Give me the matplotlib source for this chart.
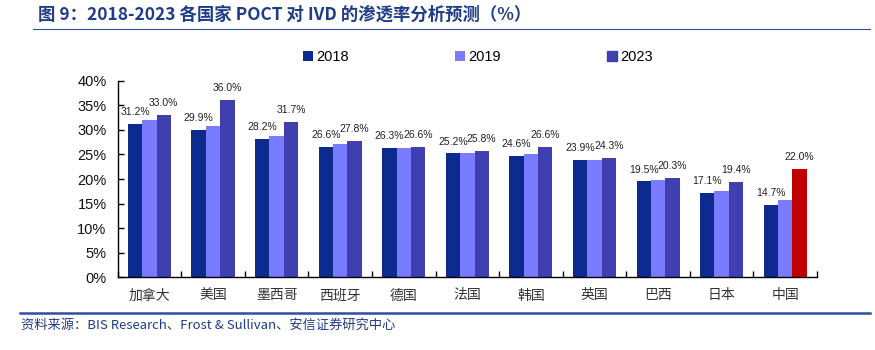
import matplotlib
matplotlib.use("Agg")
import matplotlib.pyplot as plt
import numpy as np

plt.rcParams['font.family'] = ['Liberation Sans', 'Noto Sans CJK SC', 'DejaVu Sans']

countries = ["加拿大", "美国", "墨西哥", "西班牙", "德国", "法国", "韩国", "英国", "巴西", "日本", "中国"]
series_names = ["2018", "2019", "2023"]
v2018 = [31.2, 29.9, 28.2, 26.6, 26.3, 25.2, 24.6, 23.9, 19.5, 17.1, 14.7]
v2019 = [32.0, 30.8, 28.8, 27.1, 26.4, 25.2, 25.1, 23.9, 19.8, 17.6, 15.8]
v2023 = [33.0, 36.0, 31.7, 27.8, 26.6, 25.8, 26.6, 24.3, 20.3, 19.4, 22.0]
yticks = [0, 5, 10, 15, 20, 25, 30, 35, 40]

c2018 = "#0D2A8E"
c2019 = "#7B7BFF"
c2023 = "#3F3FAF"
c_red = "#C00000"

fig = plt.figure(figsize=(8.75, 3.5), dpi=100)
ax = fig.add_axes([0.1345, 0.2077, 0.9337 - 0.1345, 0.5617])

x = np.arange(len(countries))
w = 0.226
b1 = ax.bar(x - w, v2018, w, color=c2018, label=series_names[0])
b2 = ax.bar(x, v2019, w, color=c2019, label=series_names[1])
colors23 = [c2023] * (len(countries) - 1) + [c_red]
b3 = ax.bar(x + w, v2023, w, color=colors23, label=series_names[2])

for rect, v in zip(b1, v2018):
    ax.annotate(f"{v:.1f}%", (rect.get_x() + rect.get_width() / 2, rect.get_height()),
                xytext=(0, 5), textcoords="offset points", ha="center", va="bottom",
                fontsize=7.5, color="#222222")
for rect, v in zip(b3, v2023):
    ax.annotate(f"{v:.1f}%", (rect.get_x() + rect.get_width() / 2, rect.get_height()),
                xytext=(0, 5), textcoords="offset points", ha="center", va="bottom",
                fontsize=7.5, color="#222222")

ax.set_xlim(-0.5, len(countries) - 0.5)
ax.set_ylim(0, 40)
ax.set_yticks(yticks)
ax.set_yticklabels([f"{t}%" for t in yticks], fontsize=10.5, color="#111111")
ax.set_xticks(x)
ax.set_xticklabels(countries, fontsize=10, color="#333333",
                   family=['Noto Sans CJK SC', 'DejaVu Sans'])
ax.set_xticks(np.arange(-0.5, len(countries), 1.0), minor=True)
ax.tick_params(axis='x', which='major', length=0, pad=8)
ax.tick_params(axis='x', which='minor', direction='in', length=4, width=1, color='black')
ax.tick_params(axis='y', direction='in', length=4, width=1, pad=8)
for s in ['top', 'right']:
    ax.spines[s].set_visible(False)
ax.spines['left'].set_linewidth(1)
ax.spines['bottom'].set_linewidth(1)

leg = fig.legend(handles=[b1, b2, b3], labels=series_names, loc='center',
                 bbox_to_anchor=(0.546, 1 - 57 / 350), ncol=3, frameon=False,
                 fontsize=10.5, handlelength=0.7, handleheight=0.7, handletextpad=0.2,
                 columnspacing=7.3)
leg.legend_handles[2].set_color(c2023)

fig.text(0.043, 1 - 15 / 350, "图 9：2018-2023 各国家 POCT 对 IVD 的渗透率分析预测（%）",
         fontsize=12.5, fontweight='bold', color="#1F3C88", va='center', ha='left',
         family=['Noto Sans CJK SC', 'DejaVu Sans'])
fig.add_artist(plt.Line2D([33 / 875, 870 / 875], [1 - 29 / 350, 1 - 29 / 350],
                          color="#2F4FA0", linewidth=0.8))
fig.add_artist(plt.Line2D([20 / 875, 870 / 875], [1 - 313 / 350, 1 - 313 / 350],
                          color="#2F4FA0", linewidth=1.8))
fig.text(0.024, 1 - 325 / 350, "资料来源：BIS Research、Frost & Sullivan、安信证券研究中心",
         fontsize=9.5, style='italic', color="#1F3C88", va='center', ha='left',
         family=['Noto Sans CJK SC', 'DejaVu Sans'])

fig.savefig("out.png", dpi=100)
